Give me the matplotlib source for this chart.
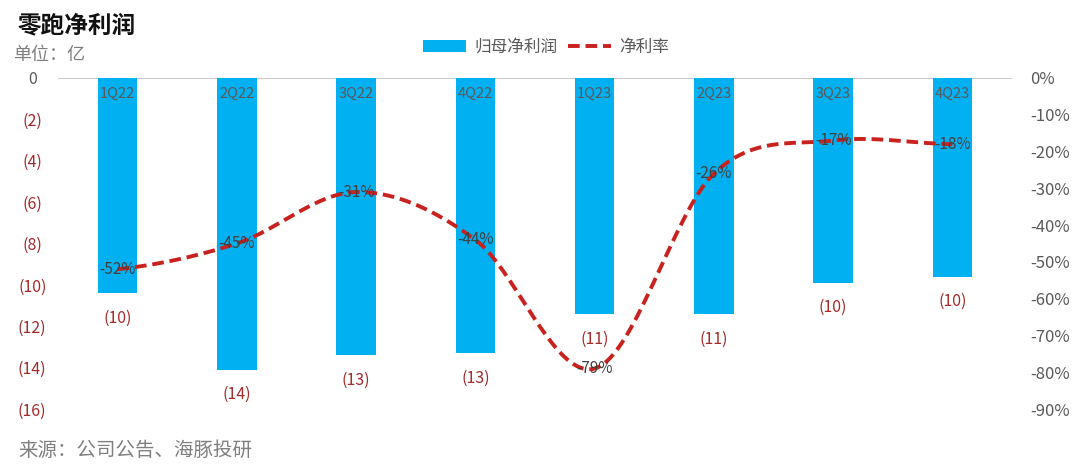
import matplotlib
matplotlib.use("Agg")
import matplotlib.pyplot as plt
import numpy as np
from matplotlib.patches import Patch
from matplotlib.lines import Line2D

plt.rcParams['font.family'] = ['Noto Sans CJK SC', 'DejaVu Sans']
plt.rcParams['axes.unicode_minus'] = False

quarters = ["1Q22", "2Q22", "3Q22", "4Q22", "1Q23", "2Q23", "3Q23", "4Q23"]
net_profit = [-10.4, -14.1, -13.4, -13.3, -11.4, -11.4, -9.9, -9.6]
net_margin = [-0.52, -0.45, -0.31, -0.44, -0.79, -0.26, -0.17, -0.18]
left_ticks = [0, -2, -4, -6, -8, -10, -12, -14, -16]
right_ticks = [0, -0.1, -0.2, -0.3, -0.4, -0.5, -0.6, -0.7, -0.8, -0.9]

BLUE = "#00B0F0"
RED = "#C9211E"
DARKRED = "#A52A2A"
GRAY = "#595959"

def catmull_rom(xs, ys, n=40):
    xs = np.asarray(xs, float); ys = np.asarray(ys, float)
    px = np.concatenate([[2*xs[0]-xs[1]], xs, [2*xs[-1]-xs[-2]]])
    py = np.concatenate([[ys[0]], ys, [ys[-1]]])
    ox, oy = [], []
    for i in range(1, len(px)-2):
        p0, p1, p2, p3 = [np.array([px[j], py[j]]) for j in (i-1, i, i+1, i+2)]
        c1 = p1 + (p2 - p0) / 6.0
        c2 = p2 - (p3 - p1) / 6.0
        t = np.linspace(0, 1, n, endpoint=(i == len(px)-3))[:, None]
        pts = ((1-t)**3)*p1 + 3*((1-t)**2)*t*c1 + 3*(1-t)*(t**2)*c2 + (t**3)*p2
        ox.extend(pts[:, 0]); oy.extend(pts[:, 1])
    return np.array(ox), np.array(oy)

fig = plt.figure(figsize=(10.8, 4.72), dpi=100)
ax = fig.add_axes([58/1080, 1-409/472, (1012-58)/1080, (409-78)/472])
x = np.arange(len(quarters))

ax.bar(x, net_profit, width=0.33, color=BLUE, zorder=2)
ax.set_xlim(-0.5, len(quarters)-0.5)
ax.set_ylim(-16, 0)
ax.set_yticks(left_ticks)
ax.set_yticklabels(["0" if v == 0 else f"({abs(v)})" for v in left_ticks])
for lbl, v in zip(ax.get_yticklabels(), left_ticks):
    lbl.set_color(GRAY if v == 0 else DARKRED)
    lbl.set_horizontalalignment('center')
ax.tick_params(axis='y', length=0, labelsize=11.5, pad=18.5)
ax.set_xticks([])
for s in ax.spines.values():
    s.set_visible(False)
ax.axhline(0, color="#BFBFBF", lw=1.2, zorder=1)

for xi, q in zip(x, quarters):
    ax.text(xi, -0.45, q, ha='center', va='top', fontsize=10.5, color=GRAY, zorder=5)
for xi, v in zip(x, net_profit):
    ax.annotate(f"({abs(round(v)):d})", (xi, v), xytext=(0, -18), textcoords='offset points',
                ha='center', va='center', fontsize=11.5, color=DARKRED)

ax2 = ax.twinx()
ax2.set_ylim(-0.9, 0)
ax2.set_yticks(right_ticks)
ax2.set_yticklabels([f"{round(v*100)}%" for v in right_ticks])
ax2.tick_params(axis='y', length=0, labelsize=12, colors=GRAY, pad=13)
for s in ax2.spines.values():
    s.set_visible(False)
sx, sy = catmull_rom(x, net_margin)
ax2.plot(sx, sy, color=RED, lw=2.8, dashes=(3, 1.5), zorder=4)
for xi, v in zip(x, net_margin):
    ax2.text(xi, v, f"{round(v*100)}%", ha='center', va='center', fontsize=11,
             color="#404040", zorder=6)

fig.text(18/1080, 1-25/472, "零跑净利润", fontsize=17, fontweight='bold', va='center', ha='left', color="#111111")
fig.text(13/1080, 1-55/472, "单位：亿", fontsize=13, va='center', ha='left', color="#7F7F7F")
fig.text(18/1080, 1-450/472, "来源：公司公告、海豚投研", fontsize=14, va='center', ha='left', color="#7F7F7F")

handles = [Patch(facecolor=BLUE, edgecolor='none'),
           Line2D([0], [0], color=RED, lw=2.8, dashes=(3, 1.5))]
fig.legend(handles, ["归母净利润", "净利率"], loc='center', bbox_to_anchor=(546/1080, 1-47/472),
           ncol=2, frameon=False, fontsize=12, handlelength=2.6, handleheight=0.7,
           columnspacing=0.6, handletextpad=0.5, labelcolor=GRAY)

fig.savefig("out.png", dpi=100, facecolor='white')
